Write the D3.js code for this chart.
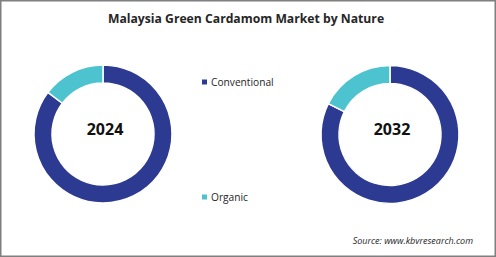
<!DOCTYPE html>
<html>
<head>
<meta charset="utf-8">
<script src="https://cdn.jsdelivr.net/npm/d3@7"></script>
<style>
  body { margin: 0; background: #fff; }
  svg { display: block; }
</style>
</head>
<body>
<div id="chart"></div>
<script>
// data
var categories = ["Conventional", "Organic"];
var years = ["2024", "2032"];
var share2024 = [85.3, 14.7];
var share2032 = [82.4, 17.6];
var colors = ["#2c3a92", "#4cc3cf"];

var width = 496, height = 257;

var svg = d3.select("#chart").append("svg")
	.attr("width", width)
	.attr("height", height);

svg.append("rect")
	.attr("x", 0.75).attr("y", 0.75)
	.attr("width", width - 1.5).attr("height", height - 1.5)
	.attr("fill", "#fff")
	.attr("stroke", "#7f7f7f")
	.attr("stroke-width", 1.5);

svg.append("text")
	.attr("x", 246)
	.attr("y", 23)
	.attr("text-anchor", "middle")
	.attr("font-family", "'Open Sans', sans-serif")
	.attr("font-weight", "bold")
	.attr("font-size", 12.2)
	.attr("fill", "#262626")
	.text("Malaysia Green Cardamom Market by Nature");

var color = d3.scaleOrdinal().domain(categories).range(colors);

var pie = d3.pie().sort(null).value(function(d) { return d.value; });
var arc = d3.arc().innerRadius(51).outerRadius(69);

var donuts = [
	{year: years[0], cx: 103, cy: 134, values: share2024},
	{year: years[1], cx: 390, cy: 134.5, values: share2032}
];

donuts.forEach(function(dn) {
	var g = svg.append("g")
		.attr("transform", "translate(" + dn.cx + "," + dn.cy + ")");

	var rows = categories.map(function(c, i) { return {name: c, value: dn.values[i]}; });

	g.selectAll("path")
		.data(pie(rows))
		.enter().append("path")
		.attr("d", arc)
		.attr("fill", function(d) { return color(d.data.name); })
		.attr("stroke", "#fff")
		.attr("stroke-width", 1.5);

	g.append("text")
		.attr("x", 2)
		.attr("y", -5)
		.attr("dy", "0.35em")
		.attr("text-anchor", "middle")
		.attr("font-family", "'Open Sans', sans-serif")
		.attr("font-weight", "bold")
		.attr("font-size", 16)
		.attr("fill", "#111")
		.text(dn.year);
});

// legend
var legendY = d3.scalePoint().domain(categories).range([82, 197]);

var legend = svg.selectAll(".legend")
	.data(categories)
	.enter().append("g")
	.attr("class", "legend")
	.attr("transform", function(d) { return "translate(202," + legendY(d) + ")"; });

legend.append("rect")
	.attr("x", 0).attr("y", -2.5)
	.attr("width", 5).attr("height", 5)
	.attr("fill", function(d) { return color(d); });

legend.append("text")
	.attr("x", 9)
	.attr("dy", "0.35em")
	.attr("font-family", "'Open Sans', sans-serif")
	.attr("font-size", 10.2)
	.attr("fill", "#262626")
	.text(function(d) { return d; });

svg.append("text")
	.attr("x", 473)
	.attr("y", 244)
	.attr("text-anchor", "end")
	.attr("font-family", "'Open Sans', sans-serif")
	.attr("font-style", "italic")
	.attr("font-size", 9)
	.attr("fill", "#262626")
	.text("Source: www.kbvresearch.com");
</script>
</body>
</html>
